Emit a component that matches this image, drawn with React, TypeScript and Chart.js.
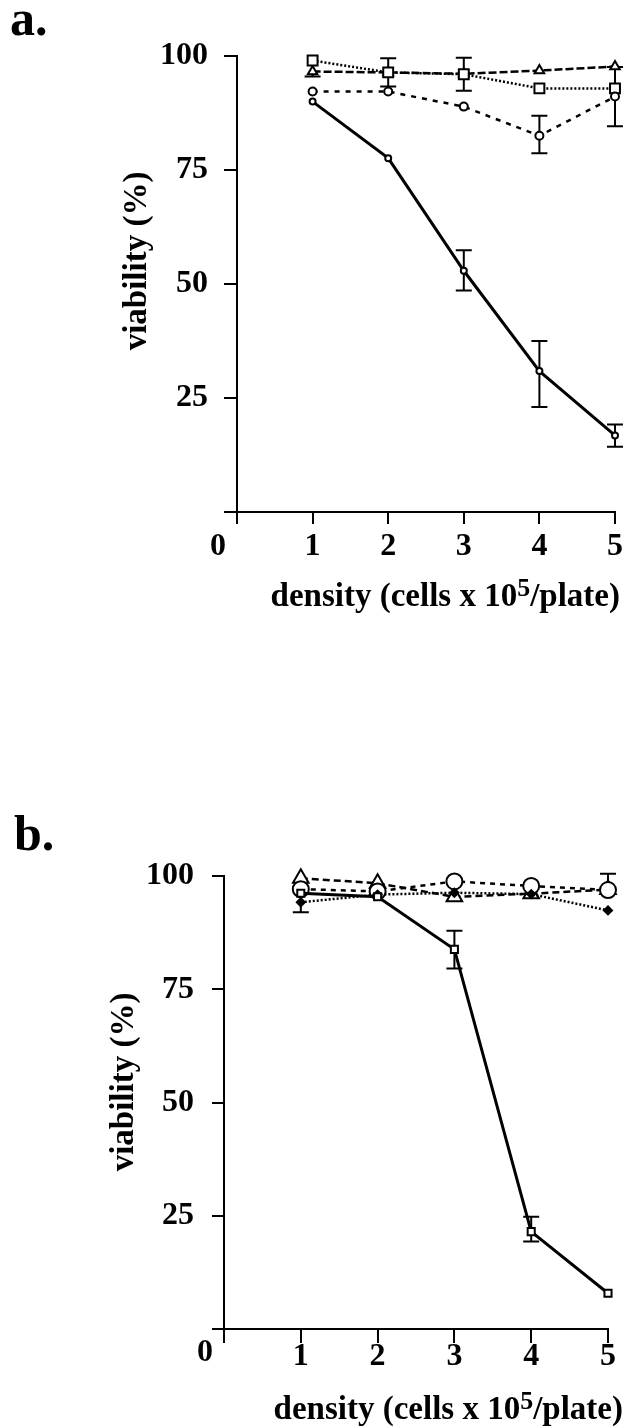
import React, { useEffect, useRef } from 'react';
import { Chart, registerables } from 'chart.js';

Chart.register(...registerables);

const FONT = "'Liberation Serif', 'Times New Roman', serif";

// ---------- shared axes ----------
const DENSITY = [1, 2, 3, 4, 5];
const X_TICKS = [0, 1, 2, 3, 4, 5];
const Y_TICKS = [0, 25, 50, 75, 100];
const Y_TITLE = 'viability (%)';
const X_TITLE_PARTS = ['density (cells x 10', '5', '/plate)'];

// ---------- panel a ----------
const A_SOLID = [90.0, 77.6, 52.9, 30.9, 16.8];
const A_SOLID_ERR_HI = [0, 0, 4.5, 6.6, 2.4];
const A_SOLID_ERR_LO = [0, 0, 4.3, 7.9, 2.5];
const A_TRIANGLE = [96.6, 96.4, 96.1, 96.8, 97.7];
const A_TRIANGLE_ERR_HI = [0, 0, 0, 0, 0];
const A_TRIANGLE_ERR_LO = [1.1, 0, 0, 0, 0];
const A_SQUARE = [99.0, 96.4, 96.0, 92.9, 92.9];
const A_SQUARE_ERR_HI = [0, 3.1, 3.6, 0, 0];
const A_SQUARE_ERR_LO = [0, 3.1, 3.6, 0, 0];
const A_CIRCLE = [92.2, 92.2, 88.9, 82.5, 91.1];
const A_CIRCLE_ERR_HI = [0, 0, 0, 4.4, 6.5];
const A_CIRCLE_ERR_LO = [0, 0, 0, 3.8, 6.5];

// ---------- panel b ----------
const B_SOLID = [96.2, 95.4, 83.8, 21.5, 7.9];
const B_SOLID_ERR_HI = [0, 0, 4.1, 3.3, 0];
const B_SOLID_ERR_LO = [0, 0, 4.2, 2.2, 0];
const B_TRIANGLE = [99.5, 98.4, 95.4, 96.1, 97.0];
const B_CIRCLE = [97.1, 96.6, 98.8, 97.8, 96.9];
const B_CIRCLE_ERR_HI = [0, 0, 0, 0, 3.6];
const B_CIRCLE_ERR_LO = [0, 0, 0, 0, 0];
const B_DOT = [94.2, 95.9, 96.3, 96.0, 92.4];
const B_DOT_ERR_HI = [0, 0, 0, 0, 0];
const B_DOT_ERR_LO = [2.2, 0, 0, 0, 0];

const toPoints = (vals: number[]) => vals.map((v, i) => ({ x: DENSITY[i], y: v }));

const errorBarPlugin = {
  id: 'errorBars',
  beforeDatasetsDraw(chart: any) {
    const ctx = chart.ctx;
    const xs = chart.scales.x;
    const ys = chart.scales.y;
    const cap = 8;
    ctx.save();
    ctx.strokeStyle = '#000';
    ctx.lineWidth = 2;
    chart.data.datasets.forEach((ds: any) => {
      const hi = ds.errHi || [];
      const lo = ds.errLo || [];
      ds.data.forEach((pt: any, j: number) => {
        const h = hi[j] || 0;
        const l = lo[j] || 0;
        if (!h && !l) return;
        const x = xs.getPixelForValue(pt.x);
        const yTop = ys.getPixelForValue(pt.y + h);
        const yBot = ys.getPixelForValue(pt.y - l);
        ctx.beginPath();
        ctx.moveTo(x, yTop);
        ctx.lineTo(x, yBot);
        if (h) {
          ctx.moveTo(x - cap, yTop);
          ctx.lineTo(x + cap, yTop);
        }
        if (l) {
          ctx.moveTo(x - cap, yBot);
          ctx.lineTo(x + cap, yBot);
        }
        ctx.stroke();
      });
    });
    ctx.restore();
  },
};

const textPlugin = {
  id: 'panelText',
  afterDraw(chart: any, _args: any, o: any) {
    const ctx = chart.ctx;
    ctx.save();
    ctx.fillStyle = '#000';
    // panel letter
    ctx.font = `bold ${o.letterSize}px ${FONT}`;
    ctx.textAlign = 'left';
    ctx.textBaseline = 'alphabetic';
    ctx.fillText(o.letter, o.letterX, o.letterY);
    // origin label
    ctx.font = `bold 32px ${FONT}`;
    ctx.textAlign = 'center';
    ctx.textBaseline = 'middle';
    ctx.fillText('0', o.zeroX, o.zeroY);
    // y title
    ctx.save();
    ctx.translate(o.yTitleX, o.yTitleY);
    ctx.rotate(-Math.PI / 2);
    ctx.font = `bold ${o.titleSize}px ${FONT}`;
    ctx.textAlign = 'center';
    ctx.textBaseline = 'middle';
    ctx.fillText(Y_TITLE, 0, 0);
    ctx.restore();
    // x title with superscript
    const mainFont = `bold ${o.titleSize}px ${FONT}`;
    const supFont = `bold ${o.supSize}px ${FONT}`;
    ctx.font = mainFont;
    const w0 = ctx.measureText(X_TITLE_PARTS[0]).width;
    const w2 = ctx.measureText(X_TITLE_PARTS[2]).width;
    ctx.font = supFont;
    const w1 = ctx.measureText(X_TITLE_PARTS[1]).width;
    let x = o.xTitleRight - (w0 + w1 + w2);
    ctx.textAlign = 'left';
    ctx.textBaseline = 'alphabetic';
    ctx.font = mainFont;
    ctx.fillText(X_TITLE_PARTS[0], x, o.xTitleBase);
    x += w0;
    ctx.font = supFont;
    ctx.fillText(X_TITLE_PARTS[1], x, o.xTitleBase - o.supRaise);
    x += w1;
    ctx.font = mainFont;
    ctx.fillText(X_TITLE_PARTS[2], x, o.xTitleBase);
    ctx.restore();
  },
};

type PanelCfg = {
  datasets: any[];
  left: number;
  right: number;
  top: number;
  bottom: number;
  xTickLen: number;
  xTickPad: number;
  yTickLen: number;
  yTickPad: number;
  text: any;
};

const W = 627;
const H = 714;

function makeChart(canvas: HTMLCanvasElement, cfg: PanelCfg) {
  const tickFont = { family: FONT, size: 32, weight: 'bold' as const };
  return new Chart(canvas, {
    type: 'line',
    data: { datasets: cfg.datasets },
    plugins: [errorBarPlugin, textPlugin],
    options: {
      animation: false,
      responsive: false,
      devicePixelRatio: 1,
      layout: { padding: { left: 0, right: W - cfg.right, top: cfg.top, bottom: 0 } },
      plugins: {
        legend: { display: false },
        tooltip: { enabled: false },
        panelText: cfg.text,
      } as any,
      elements: { line: { tension: 0 } },
      scales: {
        x: {
          type: 'linear',
          min: X_TICKS[0],
          max: X_TICKS[X_TICKS.length - 1],
          afterBuildTicks: (s: any) => {
            s.ticks = X_TICKS.map((v) => ({ value: v }));
          },
          afterFit: (s: any) => {
            s.height = H - cfg.bottom;
          },
          ticks: {
            autoSkip: false,
            maxRotation: 0,
            color: '#000',
            font: tickFont,
            padding: cfg.xTickPad,
            callback: (v: any) => (Number(v) === 0 ? '' : String(v)),
          },
          grid: { drawOnChartArea: false, drawTicks: true, tickLength: cfg.xTickLen, color: '#000', lineWidth: 2 },
          border: { display: true, color: '#000', width: 2 },
        },
        y: {
          type: 'linear',
          min: Y_TICKS[0],
          max: Y_TICKS[Y_TICKS.length - 1],
          afterBuildTicks: (s: any) => {
            s.ticks = Y_TICKS.map((v) => ({ value: v }));
          },
          afterFit: (s: any) => {
            s.width = cfg.left;
          },
          ticks: {
            autoSkip: false,
            color: '#000',
            font: tickFont,
            padding: cfg.yTickPad,
            callback: (v: any) => (Number(v) === 0 ? '' : String(v)),
          },
          grid: { drawOnChartArea: false, drawTicks: true, tickLength: cfg.yTickLen, color: '#000', lineWidth: 2 },
          border: { display: true, color: '#000', width: 2 },
        },
      },
    } as any,
  });
}

const series = (
  vals: number[],
  hi: number[],
  lo: number[],
  style: string,
  radius: number,
  dash: number[],
  width: number,
  fill = '#fff'
) => ({
  data: toPoints(vals),
  errHi: hi,
  errLo: lo,
  borderColor: '#000',
  borderWidth: width,
  borderDash: dash,
  pointStyle: style,
  pointRadius: radius,
  pointBorderWidth: 2,
  pointBorderColor: '#000',
  pointBackgroundColor: fill,
  fill: false,
  clip: false,
});

const PANEL_A: PanelCfg = {
  datasets: [
    series(A_SOLID, A_SOLID_ERR_HI, A_SOLID_ERR_LO, 'circle', 3, [], 3),
    series(A_CIRCLE, A_CIRCLE_ERR_HI, A_CIRCLE_ERR_LO, 'circle', 4, [5, 6], 2.5),
    series(A_SQUARE, A_SQUARE_ERR_HI, A_SQUARE_ERR_LO, 'rect', 7, [2, 2], 2.5),
    series(A_TRIANGLE, A_TRIANGLE_ERR_HI, A_TRIANGLE_ERR_LO, 'triangle', 5.5, [8, 3], 2.5),
  ],
  left: 237,
  right: 619,
  top: 56,
  bottom: 512,
  xTickLen: 12,
  xTickPad: 4,
  yTickLen: 13,
  yTickPad: 16,
  text: {
    letter: 'a.',
    letterSize: 50,
    letterX: 10,
    letterY: 35,
    zeroX: 218,
    zeroY: 547,
    yTitleX: 137,
    yTitleY: 261,
    titleSize: 33,
    supSize: 26,
    supRaise: 10,
    xTitleRight: 620,
    xTitleBase: 606,
  },
};

const PANEL_B: PanelCfg = {
  datasets: [
    series(B_SOLID, B_SOLID_ERR_HI, B_SOLID_ERR_LO, 'rect', 5, [], 3),
    series(B_DOT, B_DOT_ERR_HI, B_DOT_ERR_LO, 'rectRot', 4, [2, 2], 2.5, '#000'),
    series(B_CIRCLE, B_CIRCLE_ERR_HI, B_CIRCLE_ERR_LO, 'circle', 8, [5, 5], 2.5),
    series(B_TRIANGLE, [0, 0, 0, 0, 0], [0, 0, 0, 0, 0], 'triangle', 9, [7, 4], 2.5),
  ],
  left: 224,
  right: 608,
  top: 162,
  bottom: 615,
  xTickLen: 14,
  xTickPad: -5,
  yTickLen: 12,
  yTickPad: 18,
  text: {
    letter: 'b.',
    letterSize: 50,
    letterX: 14,
    letterY: 136,
    zeroX: 205,
    zeroY: 639,
    yTitleX: 124,
    yTitleY: 368,
    titleSize: 33,
    supSize: 26,
    supRaise: 10,
    xTitleRight: 623,
    xTitleBase: 705,
  },
};

function Panel({ cfg, top }: { cfg: PanelCfg; top: number }) {
  const ref = useRef<HTMLCanvasElement | null>(null);
  useEffect(() => {
    if (!ref.current) return;
    const chart = makeChart(ref.current, cfg);
    return () => chart.destroy();
  }, [cfg]);
  return (
    <canvas
      ref={ref}
      width={W}
      height={H}
      style={{ position: 'absolute', left: 0, top, width: W, height: H }}
    />
  );
}

export default function App() {
  return (
    <div style={{ position: 'absolute', left: 0, top: 0, width: W, height: 1428, background: '#fff' }}>
      <Panel cfg={PANEL_A} top={0} />
      <Panel cfg={PANEL_B} top={714} />
    </div>
  );
}
